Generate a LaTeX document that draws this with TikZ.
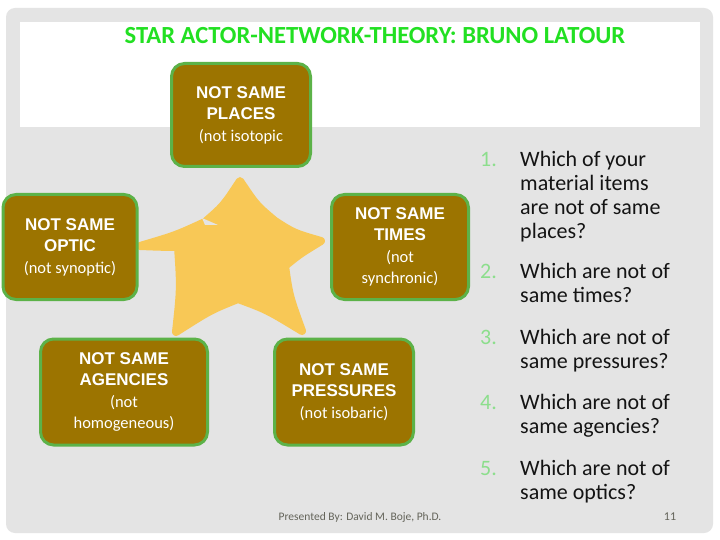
\documentclass[tikz,border=0pt]{standalone}
\usepackage{fontspec}
\usetikzlibrary{calc}
\setmainfont{Carlito}
\newfontfamily\boxbold{Liberation Sans}[BoldFont={* Bold}]
\definecolor{bggray}{RGB}{228,228,228}
\definecolor{boxfill}{RGB}{156,116,0}
\definecolor{boxline}{RGB}{92,178,72}
\definecolor{starcol}{RGB}{248,200,86}
\definecolor{titlegreen}{RGB}{34,224,34}
\definecolor{numgreen}{RGB}{140,222,140}
\definecolor{bodytext}{RGB}{20,20,20}
\definecolor{foot}{RGB}{100,100,90}
\tikzset{
  notbox/.style={draw=boxline, line width=3pt, fill=boxfill, rounded corners=13pt,
    text=white, align=center, inner sep=0pt, font=\fontsize{17}{21.5}\selectfont},
  qnum/.style={anchor=base west, text=numgreen, font=\fontsize{22}{24}\selectfont, inner sep=0pt},
  qtext/.style={anchor=base west, text=bodytext, font=\fontsize{22}{24}\selectfont, inner sep=0pt}
}
\newcommand{\bx}[1]{{\boxbold\bfseries\fontsize{17}{21.5}\selectfont #1}}
\newcommand{\px}[1]{{\fontsize{16.5}{21.5}\selectfont #1}}
\newcommand{\qlines}[1]{\vtop{\baselineskip=24pt\lineskiplimit=0pt\lineskip=0pt #1}}
\begin{document}
\begin{tikzpicture}[x=1pt,y=-1pt]
\useasboundingbox (0,0) rectangle (720,540);
\fill[white] (0,0) rectangle (720,540);
\fill[bggray, rounded corners=9pt] (6,8) rectangle (713,533);
\fill[white] (20,22) rectangle (700,127);
\node[anchor=base, text=titlegreen, font=\bfseries\fontsize{24.6}{28}\selectfont, inner sep=0pt] (title) at (375,44) {STAR ACTOR-NETWORK-THEORY: BRUNO LATOUR};

% star
\coordinate (C) at (240,262);
\coordinate (T) at (240,181);
\coordinate (TR) at (275,221);
\coordinate (R) at (321,241);
\coordinate (RB) at (285,266);
\coordinate (BR) at (302,331);
\coordinate (B) at (238,299);
\coordinate (BL) at (176,332);
\coordinate (LB) at (178,247);
\coordinate (L) at (140,246);
\coordinate (LT) at (205,222);
\filldraw[fill=starcol, draw=starcol, line width=8pt, line join=round]
  (T) .. controls ($(T)!0.5!(TR)!0.07!(C)$) .. (TR)
  .. controls ($(TR)!0.5!(R)!0.07!(C)$) .. (R)
  .. controls ($(R)!0.5!(RB)!0.05!(C)$) .. (RB)
  .. controls ($(RB)!0.5!(BR)!0.08!(C)$) .. (BR)
  .. controls ($(BR)!0.5!(B)!0.1!(C)$) .. (B)
  .. controls ($(B)!0.5!(BL)!0.1!(C)$) .. (BL)
  .. controls ($(BL)!0.5!(LB)!0.06!(C)$) .. (LB)
  .. controls ($(LB)!0.5!(L)!0.02!(C)$) .. (L)
  .. controls ($(L)!0.5!(LT)!0.05!(C)$) .. (LT)
  .. controls ($(LT)!0.5!(T)!0.07!(C)$) .. cycle;
\fill[bggray] (202,218) -- (218,225) -- (205,225) -- cycle;

% boxes
\node[notbox, minimum width=139pt, minimum height=103pt] (places) at (241,115)
  {\bx{NOT SAME}\\\bx{PLACES}\\\px{(not isotopic}};
\node[notbox, minimum width=134pt, minimum height=105pt] (optic) at (70,247)
  {\bx{NOT SAME}\\\bx{OPTIC}\\\px{(not synoptic)}};
\node[notbox, minimum width=137pt, minimum height=105pt] (times) at (400,247)
  {\bx{NOT SAME}\\\bx{TIMES}\\\px{(not}\\\px{synchronic)}};
\node[notbox, minimum width=167pt, minimum height=106pt] (agencies) at (124,392)
  {\bx{NOT SAME}\\\bx{AGENCIES}\\\px{(not}\\\px{homogeneous)}};
\node[notbox, minimum width=139pt, minimum height=106pt] (pressures) at (344,392)
  {\bx{NOT SAME}\\\bx{PRESSURES}\\\px{(not isobaric)}};

% questions
\node[qnum] (n1) at (480,167) {1.};
\node[qtext] (q1) at (520,167) {\qlines{\hbox{Which of your}\hbox{material items}\hbox{are not of same}\hbox{places?}}};
\node[qnum] (n2) at (480,278) {2.};
\node[qtext] (q2) at (520,278) {\qlines{\hbox{Which are not of}\hbox{same times?}}};
\node[qnum] (n3) at (480,344) {3.};
\node[qtext] (q3) at (520,344) {\qlines{\hbox{Which are not of}\hbox{same pressures?}}};
\node[qnum] (n4) at (480,409) {4.};
\node[qtext] (q4) at (520,409) {\qlines{\hbox{Which are not of}\hbox{same agencies?}}};
\node[qnum] (n5) at (480,475) {5.};
\node[qtext] (q5) at (520,475) {\qlines{\hbox{Which are not of}\hbox{same optics?}}};

% footer
\node[anchor=base, text=foot, font=\fontsize{11.5}{13}\selectfont, inner sep=0pt] (footer) at (360,520) {Presented By: David M. Boje, Ph.D.};
\node[anchor=base, text=foot, font=\fontsize{12}{13}\selectfont, inner sep=0pt] (page) at (670,520) {11};
\end{tikzpicture}
\end{document}
